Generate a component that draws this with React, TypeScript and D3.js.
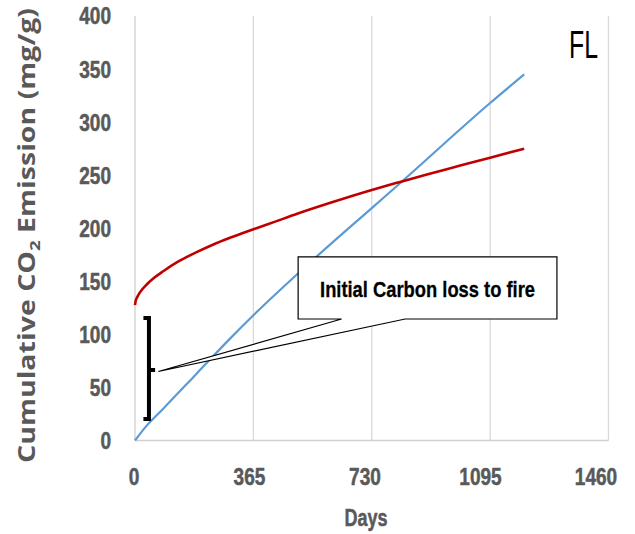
import React from "react";
import * as d3 from "d3";

// ---- data ----
const redDays = [0, 2, 5, 10, 20, 36, 60, 87, 130, 190, 240, 293, 365, 430, 500, 600, 730, 812, 900, 1000, 1095, 1200];
const redValues = [127.5, 131.5, 134, 137, 141.5, 147, 153.5, 159.5, 168, 177.5, 184.5, 191, 199, 206, 213.6, 223.7, 236, 243.2, 250.7, 258.8, 266.5, 275];
const blueDays = [0, 36, 87, 190, 293, 365, 548, 730, 812, 1095, 1200];
const blueValues = [0, 14, 30, 63, 96, 118, 170, 219, 241, 318, 345];

const xTicks = [0, 365, 730, 1095, 1460];
const xTickLabels = ["0", "365", "730", "1095", "1460"];
const yTicks = [0, 50, 100, 150, 200, 250, 300, 350, 400];
const yTickLabels = ["0", "50", "100", "150", "200", "250", "300", "350", "400"];

const yTitleMain = "Cumulative CO";
const yTitleSub = "2";
const yTitleRest = " Emission (mg/g)";
const xTitle = "Days";
const panelLabel = "FL";
const calloutText = "Initial Carbon loss to fire";

// annotation anchors in data units
const calloutBoxDays = [503, 1301];
const calloutBoxValues = [173, 114.5];
const calloutBaseDays = [637, 833];
const calloutTip = [72, 65];
const bracketDays = [26, 43, 62];
const bracketValues = [20.3, 66.5, 115.5];

const W = 635;
const H = 534;
const FONT = "'Liberation Sans', Arial, sans-serif";
const DIGIT_W = 10.6;

export default function App() {
  const x = d3.scaleLinear().domain([0, 1460]).range([135, 608.5]);
  const y = d3.scaleLinear().domain([0, 400]).range([440.5, 16]);
  const xLab = d3.scaleLinear().domain([0, 1460]).range([134, 596]);

  const line = d3
    .line<[number, number]>()
    .x((d) => x(d[0]))
    .y((d) => y(d[1]))
    .curve(d3.curveMonotoneX);

  const redPath = line(redDays.map((d, i) => [d, redValues[i]] as [number, number])) || "";
  const bluePath = line(blueDays.map((d, i) => [d, blueValues[i]] as [number, number])) || "";

  const bx0 = x(calloutBoxDays[0]);
  const bx1 = x(calloutBoxDays[1]);
  const by0 = y(calloutBoxValues[0]);
  const by1 = y(calloutBoxValues[1]);
  const calloutPath = [
    `M${bx0},${by0}`,
    `L${bx1},${by0}`,
    `L${bx1},${by1}`,
    `L${x(calloutBaseDays[1])},${by1}`,
    `L${x(calloutTip[0])},${y(calloutTip[1])}`,
    `L${x(calloutBaseDays[0])},${by1}`,
    `L${bx0},${by1}`,
    "Z",
  ].join(" ");

  const bL = x(bracketDays[0]);
  const bM = x(bracketDays[1]);
  const bR = x(bracketDays[2]);
  const bracketPath = `M${bL},${y(bracketValues[2])} L${bM},${y(bracketValues[2])} L${bM},${y(bracketValues[0])} L${bL},${y(bracketValues[0])} M${bM},${y(bracketValues[1])} L${bR},${y(bracketValues[1])}`;

  return (
    <svg
      width={W}
      height={H}
      viewBox={`0 0 ${W} ${H}`}
      style={{ position: "absolute", left: 0, top: 0, background: "#fff" }}
    >
      <rect x={0} y={0} width={W} height={H} fill="#fff" />
      {/* gridlines */}
      {xTicks.slice(1).map((t) => (
        <line key={t} x1={x(t)} x2={x(t)} y1={y(400)} y2={y(0)} stroke="#d9d9d9" strokeWidth={1.3} />
      ))}
      {/* axes */}
      <line x1={x(0)} x2={x(0)} y1={y(400)} y2={y(0)} stroke="#d0d0d0" strokeWidth={1.3} />
      <line x1={x(0)} x2={x(1460)} y1={y(0)} y2={y(0)} stroke="#d0d0d0" strokeWidth={1.3} />

      {/* series */}
      <path d={bluePath} fill="none" stroke="#5b9bd5" strokeWidth={2.2} />
      <path d={redPath} fill="none" stroke="#c00000" strokeWidth={2.6} />

      {/* y ticks */}
      {yTicks.map((t, i) => (
        <text
          key={t}
          x={111}
          y={y(t)}
          dy="0.36em"
          textAnchor="end"
          fontFamily={FONT}
          fontWeight="bold"
          fontSize={23.5}
          fill="#595959"
          stroke="#595959"
          strokeWidth={0.5}
          textLength={DIGIT_W * yTickLabels[i].length}
          lengthAdjust="spacingAndGlyphs"
        >
          {yTickLabels[i]}
        </text>
      ))}
      {/* x ticks */}
      {xTicks.map((t, i) => (
        <text
          key={t}
          x={xLab(t)}
          y={476.5}
          dy="0.36em"
          textAnchor="middle"
          fontFamily={FONT}
          fontWeight="bold"
          fontSize={23.5}
          fill="#595959"
          stroke="#595959"
          strokeWidth={0.5}
          textLength={DIGIT_W * xTickLabels[i].length}
          lengthAdjust="spacingAndGlyphs"
        >
          {xTickLabels[i]}
        </text>
      ))}

      {/* axis titles */}
      <text
        x={366}
        y={526}
        textAnchor="middle"
        fontFamily={FONT}
        fontWeight="bold"
        fontSize={23.5}
        fill="#595959"
        stroke="#595959"
        strokeWidth={0.5}
        textLength={43}
        lengthAdjust="spacingAndGlyphs"
      >
        {xTitle}
      </text>
      <text
        transform="translate(35,235.5) rotate(-90)"
        textAnchor="middle"
        fontFamily="'Open Sans', sans-serif"
        fontWeight="bold"
        fontSize={23}
        fill="#595959"
        textLength={455}
        lengthAdjust="spacingAndGlyphs"
      >
        {yTitleMain}
        <tspan fontSize={15} dy={5}>
          {yTitleSub}
        </tspan>
        <tspan dy={-5}>{yTitleRest}</tspan>
      </text>

      {/* panel label */}
      <text
        x={569}
        y={58}
        fontFamily={FONT}
        fontSize={39}
        fill="#000"
        textLength={29}
        lengthAdjust="spacingAndGlyphs"
      >
        {panelLabel}
      </text>

      {/* bracket */}
      <path d={bracketPath} fill="none" stroke="#000" strokeWidth={4} />

      {/* callout */}
      <path d={calloutPath} fill="#fff" stroke="#000" strokeWidth={1.2} />
      <text
        x={(bx0 + bx1) / 2}
        y={297}
        textAnchor="middle"
        fontFamily={FONT}
        fontWeight="bold"
        fontSize={22.5}
        fill="#000"
        stroke="#000"
        strokeWidth={0.3}
        textLength={215}
        lengthAdjust="spacingAndGlyphs"
      >
        {calloutText}
      </text>
    </svg>
  );
}
